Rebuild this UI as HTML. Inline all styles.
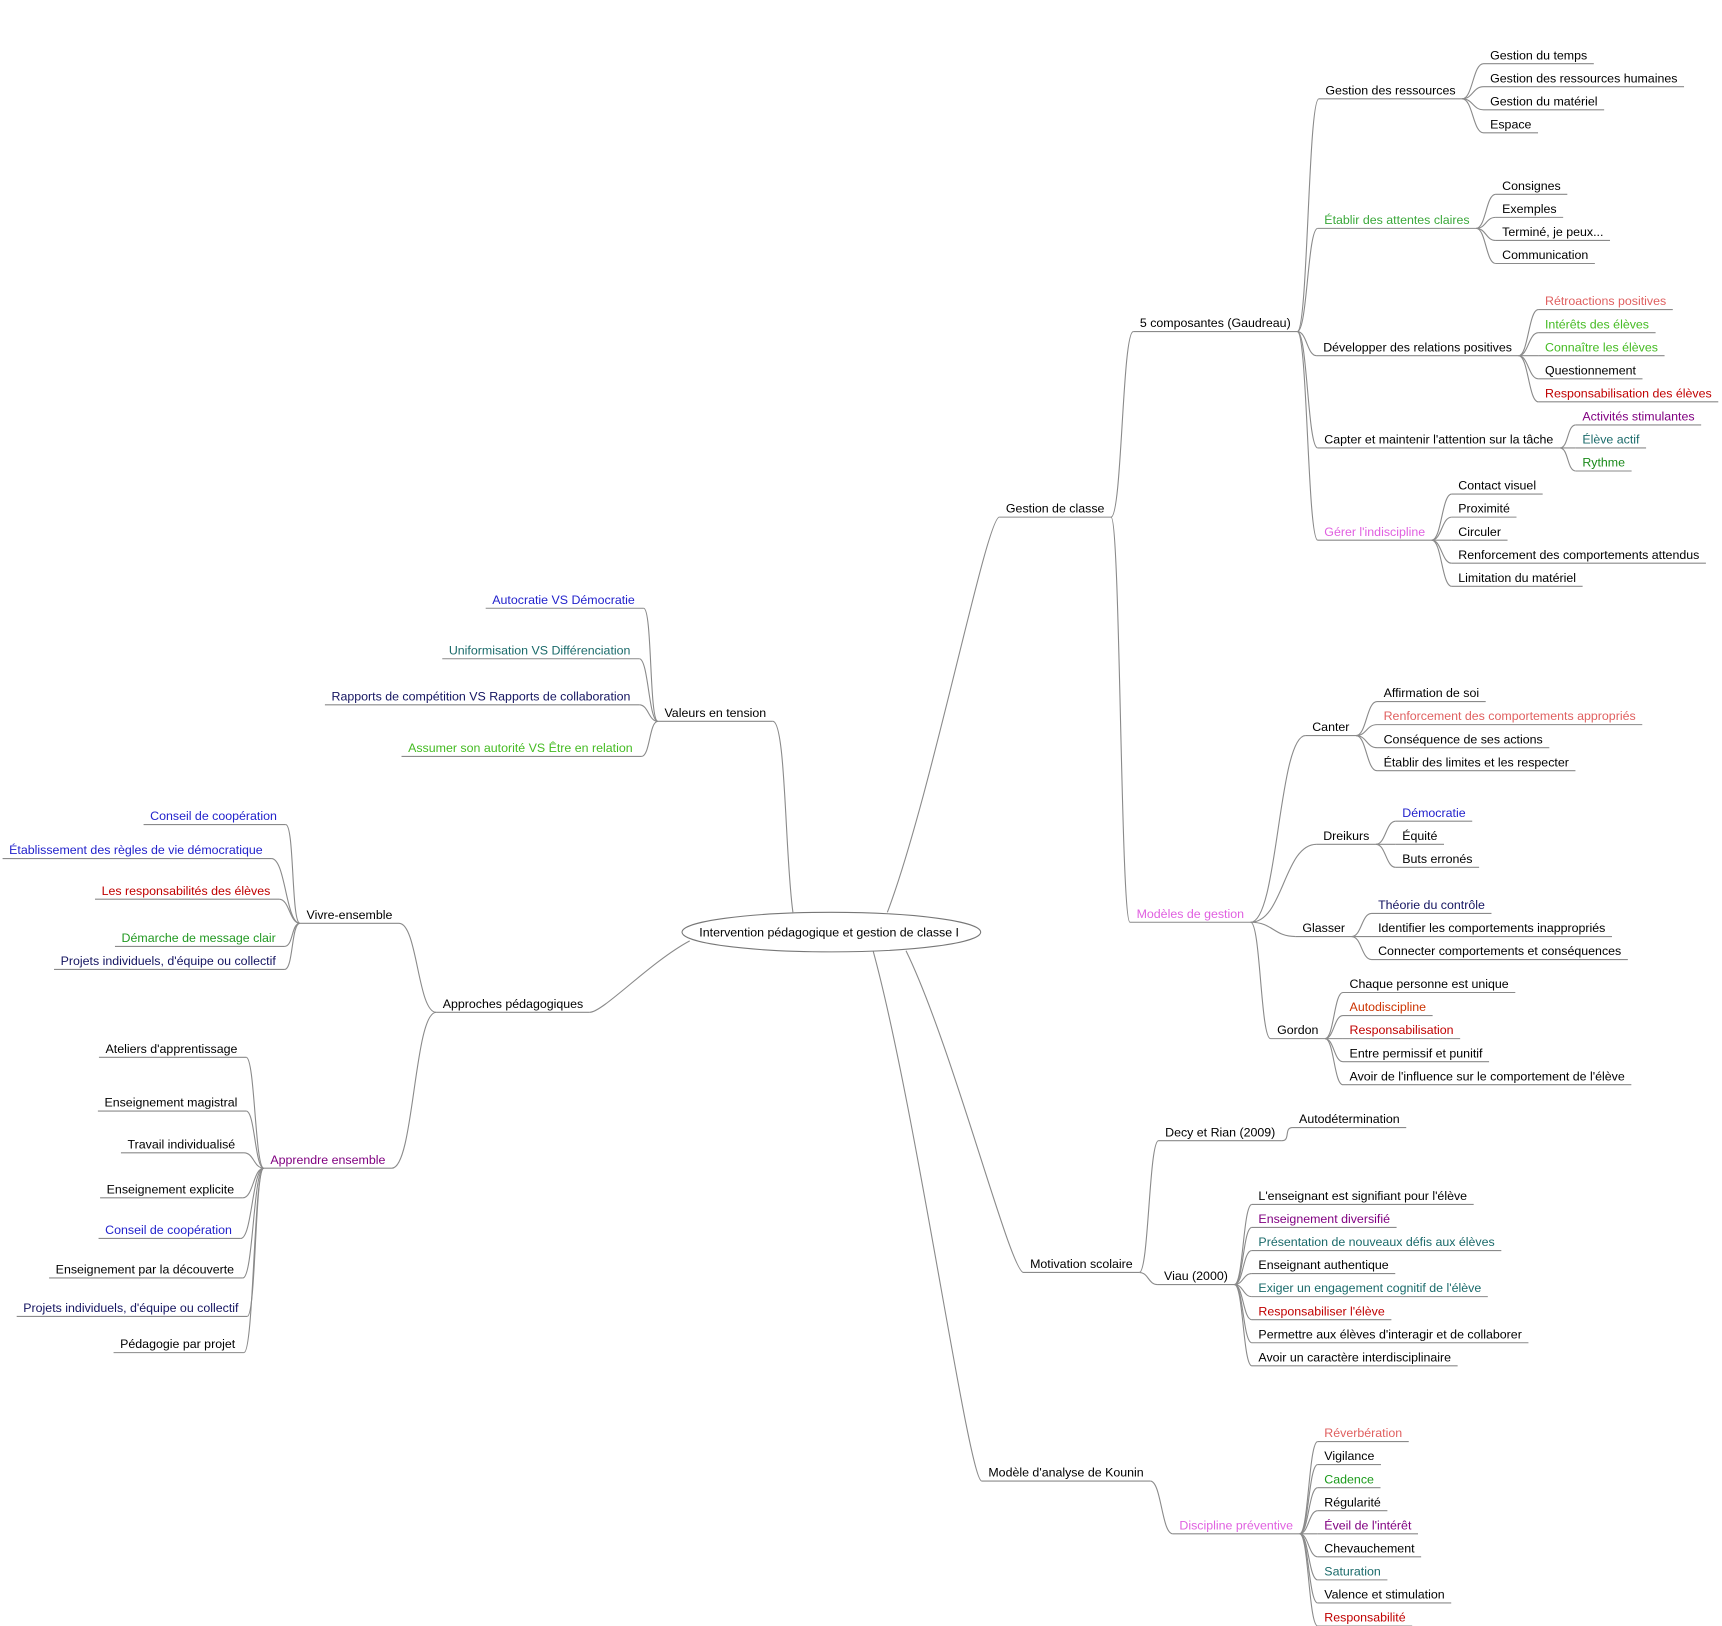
<!DOCTYPE html>
<html><head><meta charset="utf-8">
<style>
html,body{margin:0;padding:0;background:#fff;}
svg{display:block;}
text{font-family:"Liberation Sans",Arial,sans-serif;font-size:11.3px;}
</style></head>
<body>
<svg id="s" width="1722" height="1626" viewBox="0 0 1568 1481" xmlns="http://www.w3.org/2000/svg">
<g id="lines" fill="none" stroke="#8a8a8a" stroke-width="1"></g>
<ellipse cx="757" cy="849" rx="136" ry="18" fill="#fff" stroke="#777" stroke-width="1"/>
<text x="755" y="853" text-anchor="middle" fill="#000">Intervention pédagogique et gestion de classe I</text>
<g id="texts"></g>
</svg>
<script>
var K='#000',SAL='#e06060',GR='#3aa83a',GB='#44bb22',DR='#c00000',PU='#800080',TE='#1a6a6a',PK='#e060e0',BL='#2222cc',NV='#141460',OR='#cc3300';
var N=[
['gc','Gestion de classe',916,463,K,'C','R'],
['c5','5 composantes (Gaudreau)',1038,294,K,'gc','R'],
['gr','Gestion des ressources',1207,82,K,'c5','R'],
['a','Gestion du temps',1357,50,K,'gr','R'],
['a','Gestion des ressources humaines',1357,71,K,'gr','R'],
['a','Gestion du matériel',1357,92,K,'gr','R'],
['a','Espace',1357,113,K,'gr','R'],
['ea','Établir des attentes claires',1206,200,GR,'c5','R'],
['a','Consignes',1368,169,K,'ea','R'],
['a','Exemples',1368,190,K,'ea','R'],
['a','Terminé, je peux...',1368,211,K,'ea','R'],
['a','Communication',1368,232,K,'ea','R'],
['dr','Développer des relations positives',1205,316,K,'c5','R'],
['a','Rétroactions positives',1407,274,SAL,'dr','R'],
['a','Intérêts des élèves',1407,295,GB,'dr','R'],
['a','Connaître les élèves',1407,316,GB,'dr','R'],
['a','Questionnement',1407,337,K,'dr','R'],
['a','Responsabilisation des élèves',1407,358,DR,'dr','R'],
['cm',"Capter et maintenir l'attention sur la tâche",1206,400,K,'c5','R'],
['a','Activités stimulantes',1441,379,PU,'cm','R'],
['a','Élève actif',1441,400,TE,'cm','R'],
['a','Rythme',1441,421,'#1a8a1a','cm','R'],
['gi',"Gérer l'indiscipline",1206,484,PK,'c5','R'],
['a','Contact visuel',1328,442,K,'gi','R'],
['a','Proximité',1328,463,K,'gi','R'],
['a','Circuler',1328,484,K,'gi','R'],
['a','Renforcement des comportements attendus',1328,505,K,'gi','R'],
['a','Limitation du matériel',1328,526,K,'gi','R'],
['mg','Modèles de gestion',1035,832,PK,'gc','R'],
['ca','Canter',1195,662,K,'mg','R'],
['a','Affirmation de soi',1260,631,K,'ca','R'],
['a','Renforcement des comportements appropriés',1260,652,SAL,'ca','R'],
['a','Conséquence de ses actions',1260,673,K,'ca','R'],
['a','Établir des limites et les respecter',1260,694,K,'ca','R'],
['dk','Dreikurs',1205,761,K,'mg','R'],
['a','Démocratie',1277,740,BL,'dk','R'],
['a','Équité',1277,761,K,'dk','R'],
['a','Buts erronés',1277,782,K,'dk','R'],
['gl','Glasser',1186,845,K,'mg','R'],
['a','Théorie du contrôle',1255,824,NV,'gl','R'],
['a','Identifier les comportements inappropriés',1255,845,K,'gl','R'],
['a','Connecter comportements et conséquences',1255,866,K,'gl','R'],
['go','Gordon',1163,938,K,'mg','R'],
['a','Chaque personne est unique',1229,896,K,'go','R'],
['a','Autodiscipline',1229,917,OR,'go','R'],
['a','Responsabilisation',1229,938,DR,'go','R'],
['a','Entre permissif et punitif',1229,959,K,'go','R'],
['a',"Avoir de l'influence sur le comportement de l'élève",1229,980,K,'go','R'],
['ms','Motivation scolaire',938,1151,K,'C2','R'],
['dc','Decy et Rian (2009)',1061,1031,K,'ms','R'],
['a','Autodétermination',1183,1019,K,'dc','R'],
['vi','Viau (2000)',1060,1162,K,'ms','R'],
['a',"L'enseignant est signifiant pour l'élève",1146,1089,K,'vi','R'],
['a','Enseignement diversifié',1146,1110,PU,'vi','R'],
['a','Présentation de nouveaux défis aux élèves',1146,1131,TE,'vi','R'],
['a','Enseignant authentique',1146,1152,K,'vi','R'],
['a',"Exiger un engagement cognitif de l'élève",1146,1173,TE,'vi','R'],
['a',"Responsabiliser l'élève",1146,1194,DR,'vi','R'],
['a',"Permettre aux élèves d'interagir et de collaborer",1146,1215,K,'vi','R'],
['a','Avoir un caractère interdisciplinaire',1146,1236,K,'vi','R'],
['ko',"Modèle d'analyse de Kounin",900,1341,K,'C3','R'],
['dp','Discipline préventive',1074,1389,PK,'ko','R'],
['a','Réverbération',1206,1305,SAL,'dp','R'],
['a','Vigilance',1206,1326,K,'dp','R'],
['a','Cadence',1206,1347,'#1a9a1a','dp','R'],
['a','Régularité',1206,1368,K,'dp','R'],
['a',"Éveil de l'intérêt",1206,1389,PU,'dp','R'],
['a','Chevauchement',1206,1410,K,'dp','R'],
['a','Saturation',1206,1431,TE,'dp','R'],
['a','Valence et stimulation',1206,1452,K,'dp','R'],
['a','Responsabilité',1206,1473,DR,'dp','R'],
['vt','Valeurs en tension',605,649,K,'C4','LS'],
['a','Autocratie VS Démocratie',578,546,BL,'vt','L'],
['a','Uniformisation VS Différenciation',574,592,TE,'vt','L'],
['a','Rapports de compétition VS Rapports de collaboration',574,634,NV,'vt','L'],
['a','Assumer son autorité VS Être en relation',576,681,GB,'vt','L'],
['ap','Approches pédagogiques',403,914,K,'C5','LS'],
['ve','Vivre-ensemble',279,833,K,'ap','LS'],
['a','Conseil de coopération',252,743,BL,'ve','L'],
['a','Établissement des règles de vie démocratique',239,774,BL,'ve','L'],
['a','Les responsabilités des élèves',246,811,DR,'ve','L'],
['a','Démarche de message clair',251,854,'#229922','ve','L'],
['a',"Projets individuels, d'équipe ou collectif",251,875,NV,'ve','L'],
['ae','Apprendre ensemble',246,1056,PU,'ap','LS'],
['a',"Ateliers d'apprentissage",216,955,K,'ae','L'],
['a','Enseignement magistral',216,1004,K,'ae','L'],
['a','Travail individualisé',214,1042,K,'ae','L'],
['a','Enseignement explicite',213,1083,K,'ae','L'],
['a','Conseil de coopération',211,1120,BL,'ae','L'],
['a','Enseignement par la découverte',213,1156,K,'ae','L'],
['a',"Projets individuels, d'équipe ou collectif",217,1191,NV,'ae','L'],
['a','Pédagogie par projet',214,1224,K,'ae','L']
];
var NS='http://www.w3.org/2000/svg',T=document.getElementById('texts'),Lg=document.getElementById('lines'),M={};
var C={C:[808,831],C2:[825,866],C3:[795,866],C4:[722,831],C5:[628,857]};
function el(n,a,p){var e=document.createElementNS(NS,n);for(var k in a)e.setAttribute(k,a[k]);p.appendChild(e);return e;}
N.forEach(function(n){
 var t=el('text',{x:n[2],y:n[3]+4,fill:n[4]},T);t.textContent=n[1];
 var w=t.getComputedTextLength(),x1,x2,uy=n[3]+8;
 if(n[6]=='L'){t.setAttribute('text-anchor','end');x1=n[2]-w-6;x2=n[2]+8;}
 else {x1=n[2]-6;x2=n[2]+w+6;}
 el('path',{d:'M'+x1+' '+uy+'H'+x2},Lg);
 var o={x1:x1,x2:x2,y:uy,side:n[6]};
 if(n[0]!='a')M[n[0]]=o;
 var p=M[n[5]],d;
 if(C[n[5]]){var c=C[n[5]];
   if(n[6]=='R'){d='M'+c[0]+' '+c[1]+'C'+(c[0]+(x1-c[0])*0.4)+' '+(c[1]+(uy-c[1])*0.3)+' '+(x1-12)+' '+uy+' '+x1+' '+uy;}
   else {d='M'+c[0]+' '+c[1]+'C'+(c[0]+(x2-c[0])*0.4)+' '+(c[1]+(uy-c[1])*0.3)+' '+(x2+12)+' '+uy+' '+x2+' '+uy;}
 } else if(n[6]=='R'){var px=p.x2,dx=Math.max((x1-px)/2,8);
   d='M'+px+' '+p.y+'C'+(px+dx)+' '+p.y+' '+(x1-dx)+' '+uy+' '+x1+' '+uy;}
 else {var px=p.x1,dx=Math.max((px-x2)/2,8);
   d='M'+px+' '+p.y+'C'+(px-dx)+' '+p.y+' '+(x2+dx)+' '+uy+' '+x2+' '+uy;}
 el('path',{d:d},Lg);
});
</script>
</body></html>
